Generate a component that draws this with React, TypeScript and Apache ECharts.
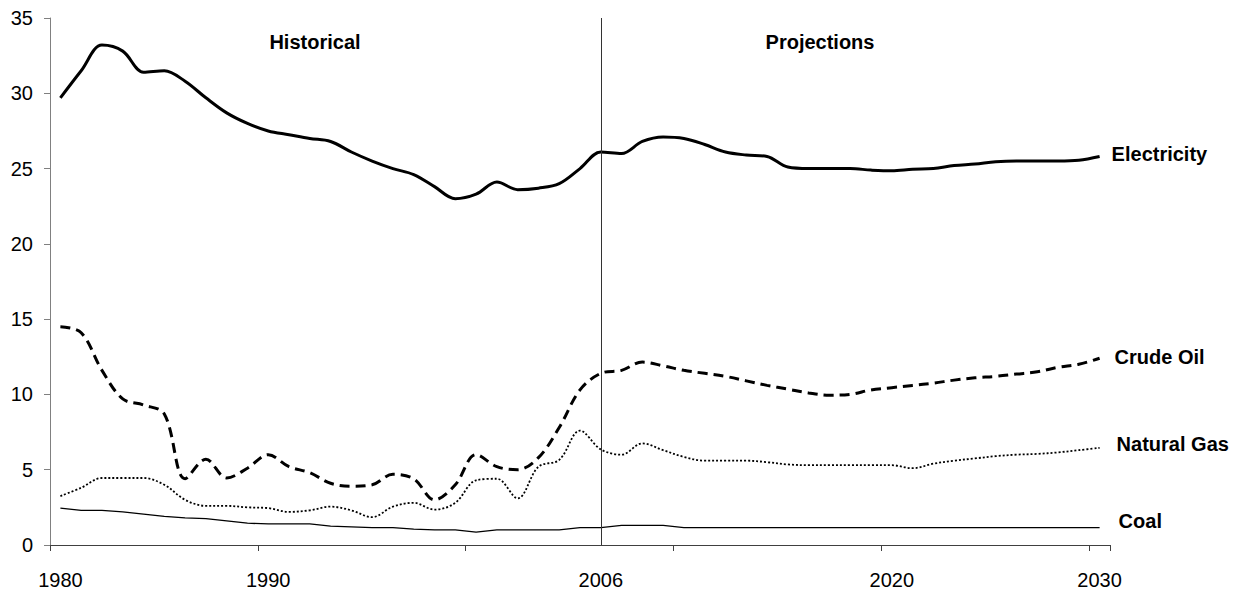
import React, { useEffect, useRef } from "react";
import * as echarts from "echarts";

const years: string[] = [
  "1980","1981","1982","1983","1984","1985","1986","1987","1988","1989",
  "1990","1991","1992","1993","1994","1995","1996","1997","1998","1999",
  "2000","2001","2002","2003","2004","2005","2006","2007","2008","2009",
  "2010","2011","2012","2013","2014","2015","2016","2017","2018","2019",
  "2020","2021","2022","2023","2024","2025","2026","2027","2028","2029","2030",
];

const shownYearLabels = ["1980", "1990", "2006", "2020", "2030"];
const yTicks = { min: 0, max: 35, interval: 5 };

const electricity = [
  29.7, 31.5, 33.2, 32.8, 31.4, 31.5, 30.8, 29.7, 28.7, 28.0,
  27.5, 27.25, 27.0, 26.8, 26.1, 25.5, 25.0, 24.6, 23.8, 23.0,
  23.3, 24.1, 23.6, 23.7, 24.0, 25.0, 26.1, 26.0, 26.8, 27.1,
  27.0, 26.6, 26.1, 25.9, 25.8, 25.1, 25.0, 25.0, 25.0, 24.9,
  24.85, 24.95, 25.0, 25.2, 25.3, 25.45, 25.5, 25.5, 25.5, 25.55, 25.8,
];

const crudeOil = [
  14.5, 14.1, 11.6, 9.7, 9.3, 8.7, 4.4, 5.7, 4.45, 5.1,
  6.0, 5.2, 4.8, 4.1, 3.9, 4.0, 4.7, 4.4, 3.0, 4.0,
  6.0, 5.2, 5.0, 5.8, 7.8, 10.3, 11.4, 11.6, 12.15, 11.9,
  11.6, 11.4, 11.2, 10.9, 10.6, 10.35, 10.1, 9.95, 10.0, 10.3,
  10.45, 10.6, 10.75, 10.95, 11.1, 11.2, 11.35, 11.5, 11.8, 12.0, 12.4,
];

const naturalGas = [
  3.25, 3.8, 4.45, 4.45, 4.45, 4.0, 3.0, 2.6, 2.6, 2.5,
  2.45, 2.2, 2.3, 2.55, 2.3, 1.85, 2.55, 2.8, 2.35, 2.8,
  4.3, 4.4, 3.1, 5.2, 5.65, 7.6, 6.35, 6.0, 6.75, 6.3,
  5.85, 5.6, 5.6, 5.6, 5.5, 5.35, 5.3, 5.3, 5.3, 5.3,
  5.3, 5.1, 5.4, 5.6, 5.75, 5.9, 6.0, 6.05, 6.15, 6.3, 6.45,
];

const coal = [
  2.45, 2.3, 2.3, 2.2, 2.05, 1.9, 1.8, 1.75, 1.6, 1.45,
  1.4, 1.4, 1.4, 1.25, 1.2, 1.15, 1.15, 1.05, 1.0, 1.0,
  0.85, 1.0, 1.0, 1.0, 1.0, 1.15, 1.15, 1.3, 1.3, 1.3,
  1.15, 1.15, 1.15, 1.15, 1.15, 1.15, 1.15, 1.15, 1.15, 1.15,
  1.15, 1.15, 1.15, 1.15, 1.15, 1.15, 1.15, 1.15, 1.15, 1.15, 1.15,
];

const dividerYear = "2006";
const periodLabels = ["Historical", "Projections"];

const FONT = '"Liberation Sans", Arial, sans-serif';

export default function App() {
  const ref = useRef<HTMLDivElement>(null);

  useEffect(() => {
    if (!ref.current) return;
    const chart = echarts.init(ref.current, undefined, { renderer: "svg" });

    const endLabel = (distance: number, dy: number) => ({
      show: true,
      formatter: "{a}",
      distance,
      offset: [0, dy],
      fontSize: 20,
      fontWeight: "bold",
      fontFamily: FONT,
      color: "#000",
    });

    chart.setOption({
      animation: false,
      backgroundColor: "#fff",
      textStyle: { fontFamily: FONT },
      grid: { left: 50, right: 134, top: 18, bottom: 48, containLabel: false },
      xAxis: {
        type: "category",
        data: years,
        boundaryGap: true,
        axisLine: { lineStyle: { color: "#404040", width: 1 } },
        axisTick: {
          show: true,
          length: 6,
          interval: (index: number) => index % 10 === 0,
          lineStyle: { color: "#404040" },
        },
        axisLabel: {
          interval: (_i: number, value: string) => shownYearLabels.includes(value),
          fontSize: 20,
          color: "#000",
          fontFamily: FONT,
          margin: 25,
        },
        splitLine: { show: false },
      },
      yAxis: {
        type: "value",
        min: yTicks.min,
        max: yTicks.max,
        interval: yTicks.interval,
        axisLine: { show: true, lineStyle: { color: "#808080", width: 1 } },
        axisTick: { show: true, length: 6, lineStyle: { color: "#808080" } },
        axisLabel: { fontSize: 20, color: "#000", fontFamily: FONT, margin: 17 },
        splitLine: { show: false },
      },
      graphic: [
        {
          type: "text",
          x: 315,
          y: 42,
          style: {
            text: periodLabels[0],
            font: `bold 20px ${FONT}`,
            fill: "#000",
            align: "center",
            verticalAlign: "middle",
          },
        },
        {
          type: "text",
          x: 820,
          y: 42,
          style: {
            text: periodLabels[1],
            font: `bold 20px ${FONT}`,
            fill: "#000",
            align: "center",
            verticalAlign: "middle",
          },
        },
      ],
      series: [
        {
          name: "Electricity",
          type: "line",
          data: electricity,
          smooth: 0.35,
          showSymbol: false,
          symbol: "none",
          lineStyle: { color: "#000", width: 3 },
          endLabel: endLabel(12, -3),
          markLine: {
            silent: true,
            symbol: "none",
            label: { show: false },
            lineStyle: { color: "#333", width: 1, type: "solid" },
            data: [{ xAxis: dividerYear }],
          },
        },
        {
          name: "Crude Oil",
          type: "line",
          data: crudeOil,
          smooth: 0.35,
          showSymbol: false,
          symbol: "none",
          lineStyle: { color: "#000", width: 3, type: [10, 6] },
          endLabel: endLabel(15, -1),
        },
        {
          name: "Natural Gas",
          type: "line",
          data: naturalGas,
          smooth: 0.35,
          showSymbol: false,
          symbol: "none",
          lineStyle: { color: "#000", width: 1.8, type: [2, 2] },
          endLabel: endLabel(17, -4),
        },
        {
          name: "Coal",
          type: "line",
          data: coal,
          smooth: false,
          showSymbol: false,
          symbol: "none",
          lineStyle: { color: "#000", width: 1.3 },
          endLabel: endLabel(19, -7),
        },
      ],
    });

    return () => chart.dispose();
  }, []);

  return (
    <div
      ref={ref}
      style={{ position: "fixed", left: 0, top: 0, width: 1244, height: 593, background: "#fff" }}
    />
  );
}
